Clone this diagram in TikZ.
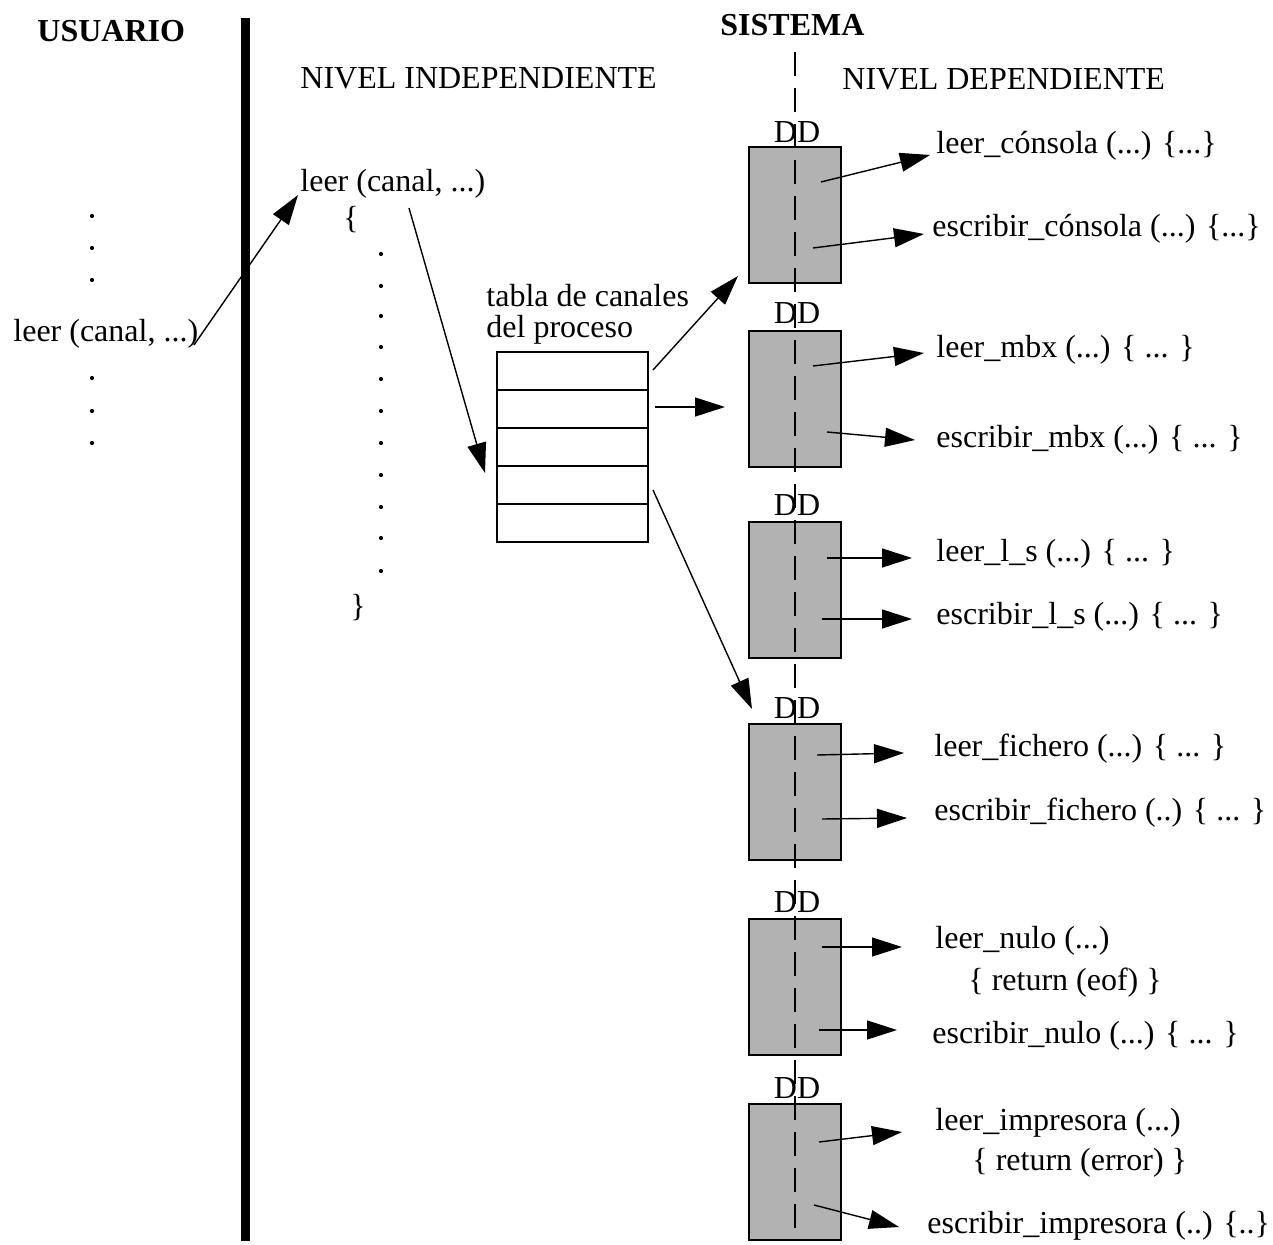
\documentclass[tikz,border=0pt]{standalone}
\usepackage{fontspec}
\setmainfont{Liberation Serif}
\usetikzlibrary{arrows.meta}
\begin{document}
\begin{tikzpicture}[x=0.5pt,y=-0.5pt,
  txt/.style={inner sep=0pt,anchor=base west,font=\fontsize{16}{19}\selectfont},
  ttl/.style={txt,font=\fontsize{16}{19}\selectfont\bfseries},
  ddlab/.style={inner sep=0pt,anchor=base,font=\fontsize{16}{19}\selectfont},
  ddbox/.style={draw=black,fill=black!30,line width=1pt,minimum width=46pt,minimum height=68pt,inner sep=0pt},
  rowcell/.style={draw=black,line width=1pt,minimum width=75.5pt,minimum height=19pt,inner sep=0pt},
  arr/.style={line width=0.7pt,-{Triangle[length=15pt,width=9.5pt]}},
  dotmark/.style={fill=black}]
\useasboundingbox (0,0) rectangle (1273,1245);

% headings
\node[ttl] (usuario) at (37,42) {USUARIO};
\node[ttl] (sistema) at (720,36) {SISTEMA};
\node[txt] (nivind) at (300,89) {NIVEL INDEPENDIENTE};
\node[txt] (nivdep) at (842,90) {NIVEL DEPENDIENTE};

% user / system boundary
\draw[line width=4.5pt] (245.5,18) -- (245.5,1241);

% user program
\foreach \yy in {216,248,280,378,411,443} \fill[dotmark] (92,\yy) circle (2.1);
\node[txt] (ucall) at (13,342) {leer (canal, ...)};

% independent level routine
\node[txt] (leer) at (300,192) {leer (canal, ...)};
\node[txt] (lbrace) at (343,229) {\{};
\foreach \yy in {254,286,316,347,379,411,443,475,507,538,571} \fill[dotmark] (381,\yy) circle (2.1);
\node[txt] (rbrace) at (350,616) {\}};

% channel table of the process
\node[txt] (tabla1) at (486,307) {tabla de canales};
\node[txt] (tabla2) at (486,338) {del proceso};
\node[rowcell] (r1) at (572.5,371) {};
\node[rowcell] (r2) at (572.5,409) {};
\node[rowcell] (r3) at (572.5,447) {};
\node[rowcell] (r4) at (572.5,485) {};
\node[rowcell] (r5) at (572.5,523) {};

% device drivers
\node[ddbox] (dd1) at (795,215) {};
\node[ddbox] (dd2) at (795,399) {};
\node[ddbox] (dd3) at (795,590) {};
\node[ddbox] (dd4) at (795,792) {};
\node[ddbox] (dd5) at (795,987) {};
\node[ddbox] (dd6) at (795,1172) {};
\node[ddlab] (l1) at (797,143) {DD};
\node[ddlab] (l2) at (797,324) {DD};
\node[ddlab] (l3) at (797,516) {DD};
\node[ddlab] (l4) at (797,718) {DD};
\node[ddlab] (l5) at (797,912) {DD};
\node[ddlab] (l6) at (797,1098) {DD};

% system axis
\coordinate (axtop) at (795,52);
\coordinate (axbot) at (795,1241);
\draw[line width=0.8pt,dash pattern=on 12pt off 6pt] (axtop) -- (axbot);

% dependent level routines
\node[txt] (t1)  at (936,154)  {leer\_cónsola (...) \{...\}};
\node[txt] (t2)  at (932,237)  {escribir\_cónsola (...) \{...\}};
\node[txt] (t3)  at (936,358)  {leer\_mbx (...) \{ ... \}};
\node[txt] (t4)  at (936,448)  {escribir\_mbx (...) \{ ... \}};
\node[txt] (t5)  at (936,561)  {leer\_l\_s (...) \{ ... \}};
\node[txt] (t6)  at (936,624)  {escribir\_l\_s (...) \{ ... \}};
\node[txt] (t7)  at (934,756)  {leer\_fichero (...) \{ ... \}};
\node[txt] (t8)  at (934,820)  {escribir\_fichero (..) \{ ... \}};
\node[txt] (t9)  at (935,948)  {leer\_nulo (...)};
\node[txt] (t9b) at (968,990)  {\{ return (eof) \}};
\node[txt] (t10) at (932,1043) {escribir\_nulo (...) \{ ... \}};
\node[txt] (t11) at (935,1130) {leer\_impresora (...)};
\node[txt] (t11b) at (972,1170) {\{ return (error) \}};
\node[txt] (t12) at (927,1233) {escribir\_impresora (..) \{..\}};

% arrow ends
\coordinate (c0a) at (194,345);  \coordinate (c0b) at (298,195);
\coordinate (c1a) at (409,208);  \coordinate (c1b) at (485,473);
\coordinate (k1a) at (653,370);  \coordinate (k1b) at (738,276);
\coordinate (k2a) at (655,407);  \coordinate (k2b) at (725,407);
\coordinate (k3a) at (653,490);  \coordinate (k3b) at (752,709);
\coordinate (s1)  at (821,182);  \coordinate (p1)  at (930,155);
\coordinate (s2)  at (813,248);  \coordinate (p2)  at (924,234);
\coordinate (s3)  at (813,366);  \coordinate (p3)  at (924,353);
\coordinate (s4)  at (827,432);  \coordinate (p4)  at (915,440);
\coordinate (s5)  at (827,558);  \coordinate (p5)  at (912,558);
\coordinate (s6)  at (822,619);  \coordinate (p6)  at (912,619);
\coordinate (s7)  at (817,755);  \coordinate (p7)  at (904,753);
\coordinate (s8)  at (822,819);  \coordinate (p8)  at (907,818);
\coordinate (s9)  at (822,947);  \coordinate (p9)  at (902,947);
\coordinate (s10) at (819,1030); \coordinate (p10) at (897,1030);
\coordinate (s11) at (819,1142); \coordinate (p11) at (902,1132);
\coordinate (s12) at (814,1205); \coordinate (p12) at (899,1227);

% calls
\draw[arr] (c0a) -- (c0b);
\draw[arr] (c1a) -- (c1b);
\draw[arr] (k1a) -- (k1b);
\draw[arr] (k2a) -- (k2b);
\draw[arr] (k3a) -- (k3b);
\foreach \i in {1,...,12} \draw[arr] (s\i) -- (p\i);
\end{tikzpicture}
\end{document}
